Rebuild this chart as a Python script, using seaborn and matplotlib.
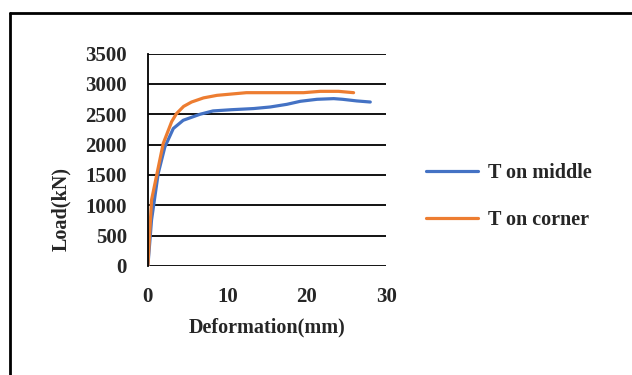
import pandas as pd
import numpy as np
import matplotlib.pyplot as plt
import seaborn as sns
from matplotlib.lines import Line2D

# data
middle_x = [0, 0.46, 1.3, 2.14, 3.2, 4.45, 6.56, 8.2, 10.5, 13.3, 15.4, 17.5, 19.2, 21.3, 23.4, 24.5, 26.3, 28]
middle_y = [0, 757, 1525, 1962, 2265, 2401, 2500, 2555, 2575, 2594, 2620, 2664, 2714, 2747, 2758, 2747, 2720, 2702]
corner_x = [0, 0.46, 1.93, 3.0, 3.6, 4.5, 5.5, 7.0, 8.7, 12.4, 19.6, 21.7, 24.0, 25.9]
corner_y = [0, 1085, 2018, 2380, 2511, 2630, 2702, 2770, 2812, 2856, 2856, 2878, 2878, 2856]

df = pd.concat([
    pd.DataFrame({'x': middle_x, 'y': middle_y, 'series': 'T on middle'}),
    pd.DataFrame({'x': corner_x, 'y': corner_y, 'series': 'T on corner'}),
])

sns.set_style('white')
plt.rcParams['font.family'] = ['Liberation Serif', 'DejaVu Serif']
plt.rcParams['font.weight'] = 'bold'

fig = plt.figure(figsize=(6.32, 3.75), dpi=100)
ax = fig.add_axes([0.234, 0.291, 0.377, 0.566])

sns.lineplot(data=df, x='x', y='y', hue='series', sort=False, estimator=None,
             palette=['#4472C4', '#ED7D31'], linewidth=2.3, ax=ax)

ax.set_xlim(0, 30)
ax.set_ylim(0, 3500)
ax.set_xticks([0, 10, 20, 30])
ax.set_yticks(range(0, 3501, 500))
ax.yaxis.grid(True, color='black', linewidth=1.3)
ax.set_axisbelow(True)
for s in ['top', 'right', 'bottom']:
    ax.spines[s].set_visible(False)
ax.spines['left'].set_color('black')
ax.spines['left'].set_linewidth(1.3)
ax.tick_params(axis='both', length=0, labelsize=15)
ax.tick_params(axis='y', pad=15)
ax.tick_params(axis='x', pad=15)
for lbl in ax.get_xticklabels() + ax.get_yticklabels():
    lbl.set_fontweight('bold')

ax.set_xlabel('Deformation(mm)', fontsize=14.5, fontweight='bold')
ax.set_ylabel('Load(kN)', fontsize=14.5, fontweight='bold')
ax.xaxis.set_label_coords(0.5, -0.245)
ax.yaxis.set_label_coords(-0.32, 0.27)

leg = ax.legend(loc='center left', bbox_to_anchor=(1.09, 0.325), frameon=False,
                fontsize=14.5, handlelength=2.6, labelspacing=1.35, handletextpad=0.5)
for t in leg.get_texts():
    t.set_fontweight('bold')

# frame lines around the figure (left and top)
fig.add_artist(Line2D([10 / 632, 10 / 632], [0, 1 - 13 / 375], color='black', linewidth=2))
fig.add_artist(Line2D([10 / 632, 1], [1 - 13 / 375, 1 - 13 / 375], color='black', linewidth=2))

fig.savefig('out.png', dpi=100)
